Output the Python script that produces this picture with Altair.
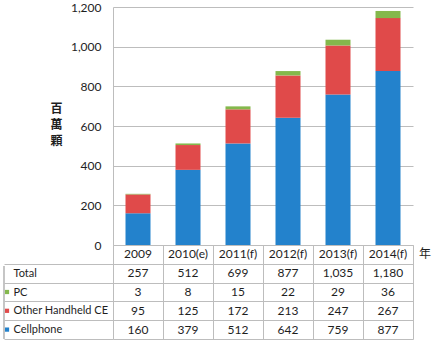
import altair as alt
import pandas as pd

years = ["2009", "2010(e)", "2011(f)", "2012(f)", "2013(f)", "2014(f)"]
cellphone = [160, 379, 512, 642, 759, 877]
other_ce = [95, 125, 172, 213, 247, 267]
pc = [3, 8, 15, 22, 29, 36]
total = [257, 512, 699, 877, 1035, 1180]

series = ["Cellphone", "Other Handheld CE", "PC"]
colors = ["#2382CC", "#E04A4A", "#84B84C"]
rows = ["header", "Total", "PC", "Other Handheld CE", "Cellphone"]
y_ticks = [0, 200, 400, 600, 800, 1000, 1200]
year_unit = "年"

FONT = "Lato"
CJK = "Noto Sans CJK TC"
GRID = "#BDBDBD"
TXT = "#1E1E1E"

# bar data
bar_records = []
for s_i, (name, vals) in enumerate(zip(series, [cellphone, other_ce, pc])):
    for y, v in zip(years, vals):
        bar_records.append({"year": y, "series": name, "value": v, "order": s_i})
bars_df = pd.DataFrame(bar_records)

# table data (header row + value rows)
row_values = {"Total": total, "PC": pc, "Other Handheld CE": other_ce, "Cellphone": cellphone}
table_records = [{"row": "header", "year": y, "text": y} for y in years]
for r in rows[1:]:
    for y, v in zip(years, row_values[r]):
        table_records.append({"row": r, "year": y, "text": f"{v:,}"})
table_df = pd.DataFrame(table_records)
legend_df = pd.DataFrame({"row": series, "series": series})
unit_df = pd.DataFrame({"row": ["header"], "text": [year_unit]})

color_scale = alt.Scale(domain=series, range=colors)

top = alt.Chart(bars_df).mark_bar(size=25).encode(
    x=alt.X(
        "year:N", sort=years,
        scale=alt.Scale(paddingInner=0, paddingOuter=0),
        axis=alt.Axis(title=None, labels=False, ticks=False, domainColor=GRID),
    ),
    y=alt.Y(
        "value:Q", stack="zero",
        scale=alt.Scale(domain=[0, 1200]),
        axis=alt.Axis(
            values=y_ticks, format=",d", ticks=False, domainColor=GRID,
            gridColor=GRID, labelPadding=12, labelFont=FONT, labelFontSize=12,
            labelColor=TXT,
            title=["百", "萬", "顆"], titleAngle=0, titleX=-57, titleY=96,
            titleAlign="center", titleBaseline="top", titleLineHeight=16,
            titleFont=CJK, titleFontSize=12, titleFontWeight="bold", titleColor=TXT,
        ),
    ),
    color=alt.Color("series:N", scale=color_scale, legend=None),
    order=alt.Order("order:Q"),
).properties(width=300, height=238)

y_enc = alt.Y(
    "row:N", sort=rows,
    scale=alt.Scale(domain=rows, paddingInner=0, paddingOuter=0),
    axis=alt.Axis(
        title=None, values=rows[1:], tickBand="extent", tickSize=109, tickColor=GRID,
        domain=False, grid=True, gridColor=GRID, labelAlign="left",
        labelPadding=-9, labelFont=FONT, labelFontSize=11, labelColor=TXT,
        labelExpr="datum.value == 'Total' ? '  Total' : datum.value",
    ),
)

table_text = alt.Chart(table_df).mark_text(font=FONT, fontSize=12, color=TXT).encode(
    x=alt.X(
        "year:N", sort=years,
        scale=alt.Scale(paddingInner=0, paddingOuter=0),
        axis=alt.Axis(labels=False, ticks=False, domain=False, grid=True,
                      gridColor=GRID, tickBand="extent", title=None),
    ),
    y=y_enc,
    text="text:N",
)

unit_text = alt.Chart(unit_df).mark_text(font=CJK, fontSize=12, color=TXT).encode(
    x=alt.value(312),
    y=alt.Y("row:N", sort=rows),
    text="text:N",
)

squares = alt.Chart(legend_df).mark_square(size=18, opacity=1).encode(
    x=alt.value(-106),
    y=alt.Y("row:N", sort=rows),
    color=alt.Color("series:N", scale=color_scale, legend=None),
)

left_border = alt.Chart(legend_df).mark_rule(color=GRID).encode(
    x=alt.value(-109), y=alt.value(21), y2=alt.value(94)
)

bottom = alt.layer(table_text, unit_text, squares, left_border).properties(width=300, height=94)

chart = alt.vconcat(top, bottom, spacing=0, bounds="flush").properties(
    padding={"left": 3, "top": 0, "right": 5, "bottom": 2}
).configure_view(stroke="transparent")

chart.save("out.html", embed_options={"renderer": "svg", "actions": False})
